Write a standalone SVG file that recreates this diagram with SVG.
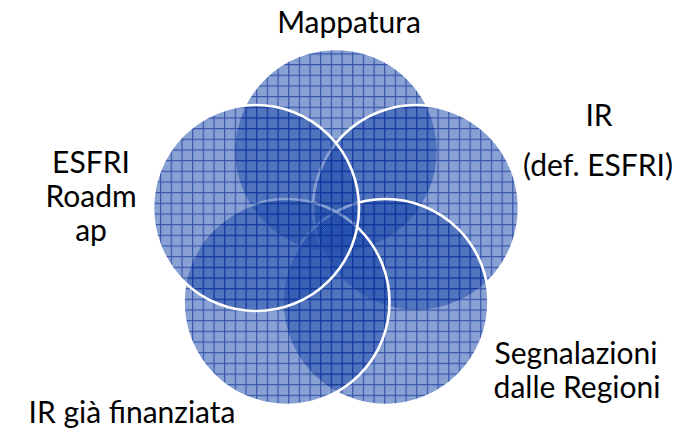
<svg xmlns="http://www.w3.org/2000/svg" width="688" height="435" viewBox="0 0 688 435">
<defs>
<pattern id="checker" width="2" height="2" patternUnits="userSpaceOnUse">
<rect width="2" height="2" fill="#0033a0" fill-opacity="0.5"/>
<rect x="0" y="0" width="1" height="1" fill="#ffffff" fill-opacity="0.14"/>
<rect x="1" y="1" width="1" height="1" fill="#ffffff" fill-opacity="0.14"/>
</pattern>
<pattern id="grid" width="10.67" height="10.67" patternUnits="userSpaceOnUse">
<rect width="10.67" height="10.67" fill="url(#checker)"/>
<path d="M0 0.6H10.67M0.6 0V10.67" stroke="#0a2e96" stroke-opacity="0.65" stroke-width="1.2" fill="none"/>
</pattern>
</defs>
<style>
.c{fill:url(#grid);stroke:#ffffff;stroke-width:2.6}
.t{font-family:Lato,"Open Sans","Liberation Sans",sans-serif;font-size:30px;fill:#000000;text-anchor:middle}
</style>
<g id="connectors"></g>
<g id="mappatura"><circle class="c" cx="336" cy="151" r="102"/></g>
<g id="ir-esfri"><circle class="c" cx="416" cy="208" r="103"/></g>
<g id="segnalazioni"><circle class="c" cx="385.5" cy="302" r="103"/></g>
<g id="ir-finanziata"><circle class="c" cx="286.5" cy="302" r="103"/></g>
<g id="esfri-roadmap"><circle class="c" cx="256" cy="208" r="103"/></g>
<g id="labels">
<text class="t" x="349" y="33">Mappatura</text>
<text class="t" x="599" y="126">IR</text>
<text class="t" x="598" y="176">(def. ESFRI)</text>
<text class="t" x="91" y="173">ESFRI</text>
<text class="t" x="91" y="207">Roadm</text>
<text class="t" x="91" y="241">ap</text>
<text class="t" x="576" y="364">Segnalazioni</text>
<text class="t" x="577" y="398">dalle Regioni</text>
<text class="t" x="132" y="423">IR già finanziata</text>
</g>
</svg>
